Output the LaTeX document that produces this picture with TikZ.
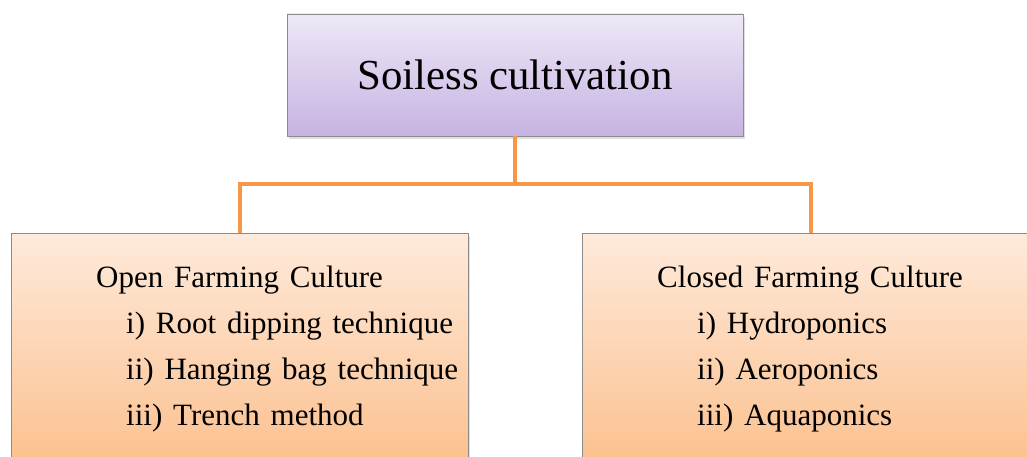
\documentclass[tikz,border=0pt]{standalone}
\usepackage{fontspec}
\setmainfont{Liberation Serif}
\usepackage{xcolor}
\usetikzlibrary{positioning,shadows}
\definecolor{lilactop}{HTML}{EEE8F7}
\definecolor{lilacbot}{HTML}{C6B3E2}
\definecolor{peachtop}{HTML}{FEEADB}
\definecolor{peachbot}{HTML}{FBBD88}
\definecolor{linkorange}{HTML}{F79646}
\definecolor{boxgray}{HTML}{8C8C8C}
\newcommand{\leaffont}{\fontsize{31}{46}\selectfont\setlength{\spaceskip}{10.8pt}}

\begin{document}
\begin{tikzpicture}[x=1pt,y=1pt,
  box/.style={draw=boxgray,line width=0.8pt,rectangle,inner sep=0pt,
    drop shadow={opacity=0.25,shadow xshift=2pt,shadow yshift=-3pt}},
  rootbox/.style={box,top color=lilactop,bottom color=lilacbot,
    minimum width=456,minimum height=122,font=\fontsize{42.8}{50}\selectfont},
  leafbox/.style={box,top color=peachtop,bottom color=peachbot,
    minimum width=457,minimum height=250},
  link/.style={draw=linkorange,line width=4pt},
  item/.style={anchor=base west,inner sep=0pt,font=\leaffont}]
\useasboundingbox (0,0) rectangle (1027,-457);
% boxes
\node[rootbox] (top) at (515,-75) {Soiless cultivation};
\node[leafbox,anchor=north] (open) at (239.5,-233) {};
\node[leafbox,anchor=north] (closed) at (811,-233) {};
% connectors
\draw[link] (top.south) -- ++(0,-48) -| (open.north);
\draw[link] (top.south) -- ++(0,-48) -| (closed.north);
% texts
\node[item] (openhead) at (96,-287) {Open Farming Culture};
\foreach \t [count=\i] in {i) Root dipping technique,ii) Hanging bag technique,iii) Trench method}
  \node[item] (open\i) at (126,-287-46*\i) {\t};
\node[item] (closedhead) at (657,-287) {Closed Farming Culture};
\foreach \t [count=\i] in {i) Hydroponics,ii) Aeroponics,iii) Aquaponics}
  \node[item] (closed\i) at (697,-287-46*\i) {\t};
\end{tikzpicture}
\end{document}
